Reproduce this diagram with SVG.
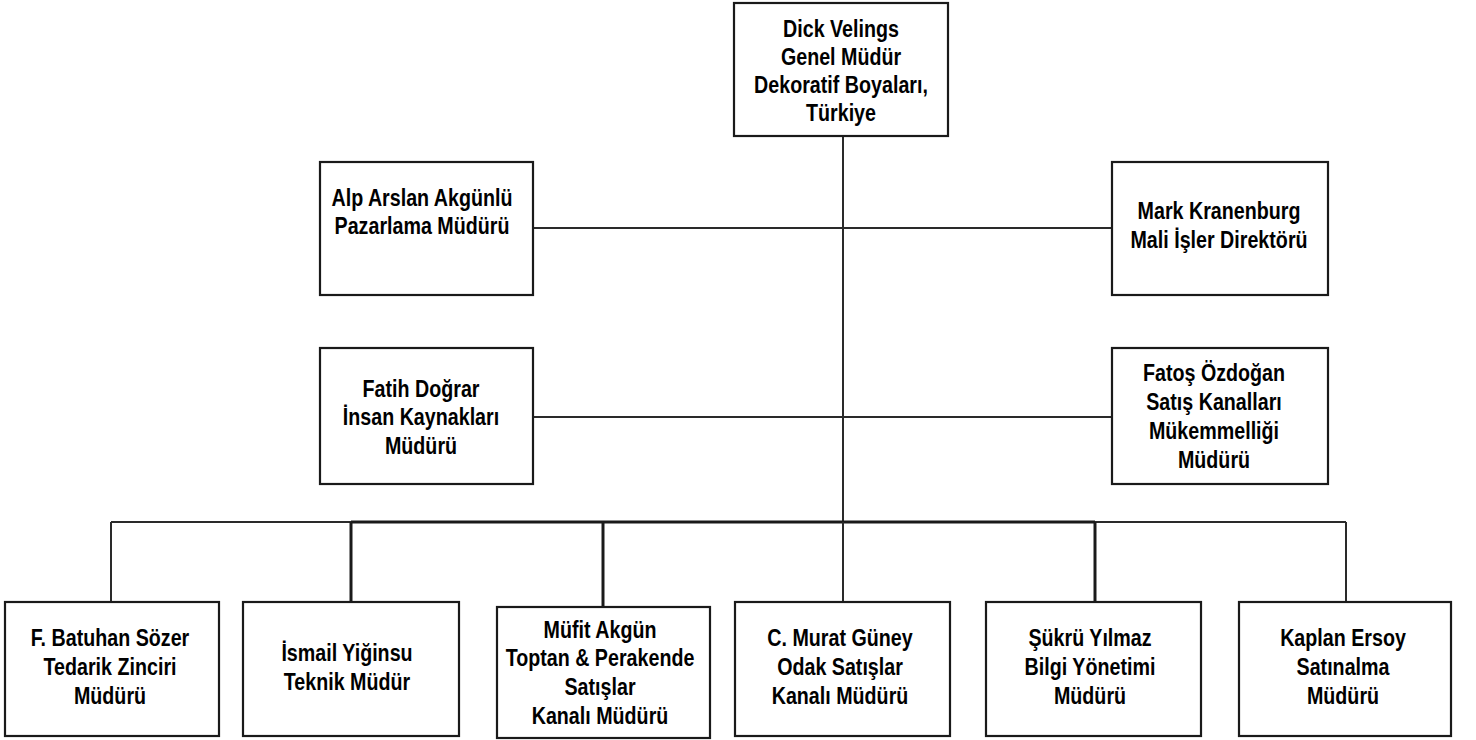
<svg xmlns="http://www.w3.org/2000/svg" width="1476" height="740" viewBox="0 0 1476 740">
<style>
.box{fill:#fff;stroke:#1a1a1a;stroke-width:2.2}
.ln{stroke:#2a2a2a;stroke-width:2;fill:none}
.thk{stroke:#1a1a1a;stroke-width:3;fill:none}
text{font-family:"Liberation Sans",Arial,sans-serif;font-weight:bold;font-size:24px;fill:#000;text-anchor:middle}
</style>
<rect width="1476" height="740" fill="#fff"/>
<g id="connectors">
<line class="ln" x1="843" y1="136" x2="843" y2="522"/>
<line class="ln" x1="533" y1="228" x2="1112" y2="228"/>
<line class="ln" x1="533" y1="417" x2="1112" y2="417"/>
<line class="ln" x1="111" y1="522" x2="351" y2="522"/>
<line class="thk" x1="351" y1="522" x2="1095" y2="522"/>
<line class="ln" x1="1095" y1="522" x2="1346" y2="522"/>
<line class="ln" x1="111" y1="522" x2="111" y2="602"/>
<line class="thk" x1="351" y1="522" x2="351" y2="602"/>
<line class="thk" x1="603" y1="522" x2="603" y2="607"/>
<line class="ln" x1="843" y1="522" x2="843" y2="602"/>
<line class="thk" x1="1095" y1="522" x2="1095" y2="602"/>
<line class="ln" x1="1346" y1="522" x2="1346" y2="602"/>
</g>
<g id="n-dick">
<rect class="box" x="734" y="3" width="214" height="133"/>
<g transform="translate(841,0) scale(0.82,1)">
<text x="0" y="37">Dick Velings</text>
<text x="0" y="65">Genel Müdür</text>
<text x="0" y="93">Dekoratif Boyaları,</text>
<text x="0" y="121">Türkiye</text>
</g>
</g>
<g id="n-alp">
<rect class="box" x="320" y="162" width="213" height="133"/>
<g transform="translate(422,0) scale(0.82,1)">
<text x="0" y="206">Alp Arslan Akgünlü</text>
<text x="0" y="234">Pazarlama Müdürü</text>
</g>
</g>
<g id="n-mark">
<rect class="box" x="1112" y="162" width="216" height="133"/>
<g transform="translate(1219,0) scale(0.82,1)">
<text x="0" y="219">Mark Kranenburg</text>
<text x="0" y="248">Mali İşler Direktörü</text>
</g>
</g>
<g id="n-fatih">
<rect class="box" x="320" y="348" width="213" height="136"/>
<g transform="translate(421,0) scale(0.82,1)">
<text x="0" y="397">Fatih Doğrar</text>
<text x="0" y="425">İnsan Kaynakları</text>
<text x="0" y="454">Müdürü</text>
</g>
</g>
<g id="n-fatos">
<rect class="box" x="1112" y="348" width="216" height="136"/>
<g transform="translate(1214,0) scale(0.82,1)">
<text x="0" y="381">Fatoş Özdoğan</text>
<text x="0" y="410">Satış Kanalları</text>
<text x="0" y="439">Mükemmelliği</text>
<text x="0" y="468">Müdürü</text>
</g>
</g>
<g id="n-batuhan">
<rect class="box" x="5" y="602" width="214" height="134"/>
<g transform="translate(110,0) scale(0.82,1)">
<text x="0" y="646">F. Batuhan Sözer</text>
<text x="0" y="675">Tedarik Zinciri</text>
<text x="0" y="704">Müdürü</text>
</g>
</g>
<g id="n-ismail">
<rect class="box" x="243" y="602" width="216" height="134"/>
<g transform="translate(347,0) scale(0.82,1)">
<text x="0" y="661">İsmail Yiğinsu</text>
<text x="0" y="690">Teknik Müdür</text>
</g>
</g>
<g id="n-mufit">
<rect class="box" x="497" y="607" width="213" height="131"/>
<g transform="translate(600,0) scale(0.82,1)">
<text x="0" y="638">Müfit Akgün</text>
<text x="0" y="666">Toptan &amp; Perakende</text>
<text x="0" y="695">Satışlar</text>
<text x="0" y="724">Kanalı Müdürü</text>
</g>
</g>
<g id="n-murat">
<rect class="box" x="735" y="602" width="215" height="134"/>
<g transform="translate(840,0) scale(0.82,1)">
<text x="0" y="646">C. Murat Güney</text>
<text x="0" y="675">Odak Satışlar</text>
<text x="0" y="704">Kanalı Müdürü</text>
</g>
</g>
<g id="n-sukru">
<rect class="box" x="986" y="602" width="215" height="134"/>
<g transform="translate(1090,0) scale(0.82,1)">
<text x="0" y="646">Şükrü Yılmaz</text>
<text x="0" y="675">Bilgi Yönetimi</text>
<text x="0" y="704">Müdürü</text>
</g>
</g>
<g id="n-kaplan">
<rect class="box" x="1239" y="602" width="212" height="134"/>
<g transform="translate(1343,0) scale(0.82,1)">
<text x="0" y="646">Kaplan Ersoy</text>
<text x="0" y="675">Satınalma</text>
<text x="0" y="704">Müdürü</text>
</g>
</g>
</svg>
